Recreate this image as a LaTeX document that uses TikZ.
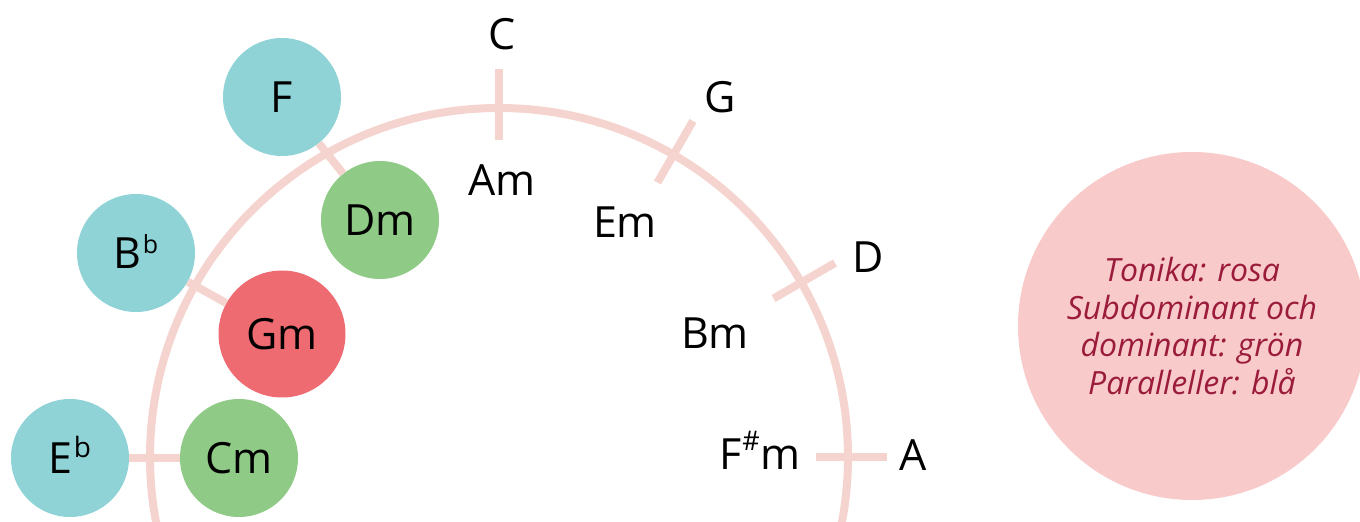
\documentclass[tikz,border=0pt]{standalone}
\usepackage{fontspec}
\setmainfont{Open Sans}
\definecolor{ringc}{RGB}{245,212,207}
\definecolor{bluec}{RGB}{143,211,214}
\definecolor{greenc}{RGB}{143,202,134}
\definecolor{redc}{RGB}{238,107,113}
\definecolor{legc}{RGB}{248,202,202}
\definecolor{legtext}{RGB}{155,27,58}
\newcommand{\chsup}[3]{\raisebox{#2pt}{\fontsize{#1}{#1}\selectfont #3}}
\begin{document}
\begin{tikzpicture}[x=1pt,y=1pt,
  ring/.style={draw=ringc,line width=8pt},
  chord/.style={circle,inner sep=0pt,minimum size=118pt,font=\fontsize{43}{50}\selectfont},
  bluech/.style={chord,fill=bluec},
  greench/.style={chord,fill=greenc},
  redch/.style={chord,fill=redc,minimum size=127pt},
  lbl/.style={inner sep=0pt,font=\fontsize{43}{50}\selectfont},
  legend/.style={circle,fill=legc,inner sep=0pt,minimum size=348pt,align=center,
    text=legtext,font=\fontsize{32}{37.7}\selectfont\itshape}]
\useasboundingbox (0,0) rectangle (1360,522);
\clip (0,0) rectangle (1360,522);
\coordinate (O) at (499,65);
\draw[ring] (O) circle[radius=349];
% right side ticks
\foreach \n/\a in {C/90,G/60,D/30,A/0}{
  \coordinate (\n i) at ([shift={(\a:317)}]O);
  \coordinate (\n o) at ([shift={(\a:388)}]O);
  \draw[ring] (\n i) -- (\n o);
}
\node[lbl] (lC) at (502,488) {C};
\node[lbl] (lAm) at (502,342) {Am};
\node[lbl] (lG) at (720,425) {G};
\node[lbl] (lEm) at (625,300) {Em};
\node[lbl] (lD) at (868,265) {D};
\node[lbl] (lBm) at (715,189) {Bm};
\node[lbl,anchor=base] (lFsm) at (760,52) {F\kern1pt\chsup{27}{19}{\#}\kern1pt m};
\node[lbl] (lA) at (913,67) {A};
% left side chord circles
\node[bluech] (F) at (282,425) {F};
\node[greench] (Dm) at (380,302) {Dm};
\node[bluech] (Bb) at (136,269) {};
\node[lbl,anchor=base] (BbT) at ([yshift=-16pt]Bb) {B\kern1pt\chsup{25}{15}{b}};
\node[redch] (Gm) at (282,188) {Gm};
\node[bluech] (Eb) at (70,64) {};
\node[lbl,anchor=base] (EbT) at ([yshift=-16pt]Eb) {E\kern1pt\chsup{28}{16}{b}};
\node[greench] (Cm) at (239,64) {Cm};
\draw[ring] (F) -- (Dm);
\draw[ring] (Bb) -- (Gm);
\draw[ring] (Eb) -- (Cm);
% legend
\node[legend] (leg) at (1192,196) {Tonika: rosa\\Subdominant och\\dominant: grön\\Paralleller: blå};
\end{tikzpicture}
\end{document}
